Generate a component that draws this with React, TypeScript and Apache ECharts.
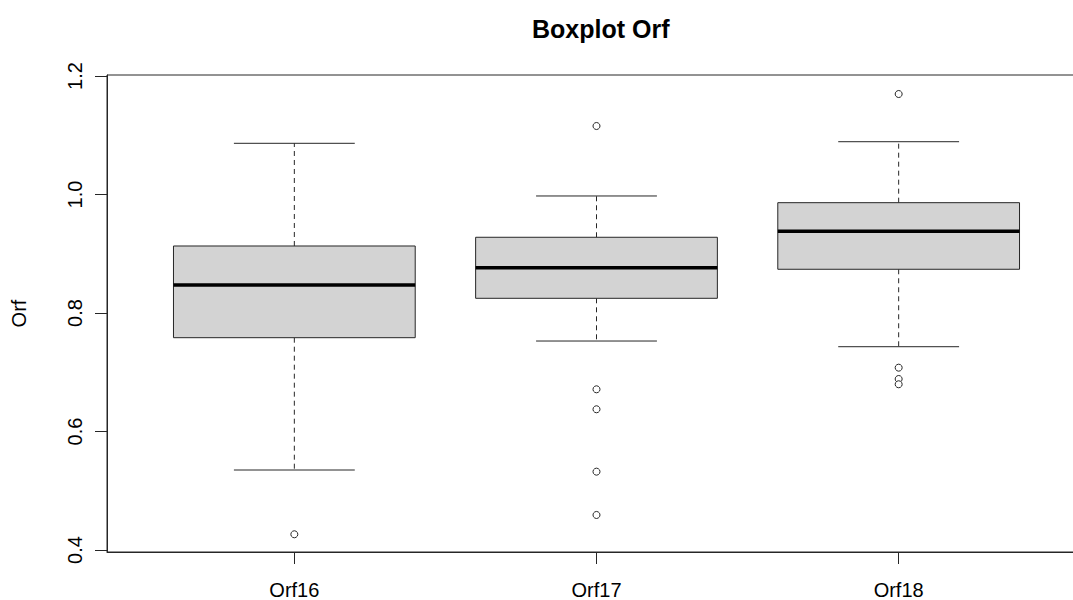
import React, { useEffect, useRef } from "react";
import * as echarts from "echarts";

const categories = ["Orf16", "Orf17", "Orf18"];
const lowerWhisker = [0.535, 0.7527, 0.7431];
const q1 = [0.7583, 0.8248, 0.8738];
const median = [0.8473, 0.8765, 0.9379];
const q3 = [0.9131, 0.9278, 0.9862];
const upperWhisker = [1.0864, 0.9975, 1.0891];
const outliersOrf16 = [0.4265];
const outliersOrf17 = [1.1156, 0.6712, 0.6375, 0.5322, 0.4591];
const outliersOrf18 = [1.1696, 0.7077, 0.6886, 0.6797];
const yTicks = [0.4, 0.6, 0.8, 1.0, 1.2];

const FONT = "'Liberation Sans', Arial, sans-serif";
const LINE = "#262626";

export default function App() {
  const ref = useRef<HTMLDivElement>(null);

  useEffect(() => {
    if (!ref.current) return;
    const chart = echarts.init(ref.current, null, { renderer: "svg" });

    const boxData = categories.map((_, i) => [
      i + 1,
      lowerWhisker[i],
      q1[i],
      median[i],
      q3[i],
      upperWhisker[i],
    ]);
    const allOutliers = [outliersOrf16, outliersOrf17, outliersOrf18];
    const outlierData: number[][] = [];
    allOutliers.forEach((arr, i) => arr.forEach((v) => outlierData.push([i + 1, v])));

    const renderItem = (params: any, api: any) => {
      const x = api.value(0);
      const lo = api.coord([x, api.value(1)]);
      const b1 = api.coord([x, api.value(2)]);
      const md = api.coord([x, api.value(3)]);
      const b3 = api.coord([x, api.value(4)]);
      const hi = api.coord([x, api.value(5)]);
      const boxW = api.size([0.8, 0])[0];
      const capW = api.size([0.4, 0])[0];
      const cx = lo[0];
      return {
        type: "group",
        children: [
          {
            type: "line",
            shape: { x1: cx, y1: b3[1], x2: cx, y2: hi[1] },
            style: { stroke: LINE, lineWidth: 1, lineDash: [5, 4] },
          },
          {
            type: "line",
            shape: { x1: cx, y1: b1[1], x2: cx, y2: lo[1] },
            style: { stroke: LINE, lineWidth: 1, lineDash: [5, 4] },
          },
          {
            type: "line",
            shape: { x1: cx - capW / 2, y1: hi[1], x2: cx + capW / 2, y2: hi[1] },
            style: { stroke: LINE, lineWidth: 1 },
          },
          {
            type: "line",
            shape: { x1: cx - capW / 2, y1: lo[1], x2: cx + capW / 2, y2: lo[1] },
            style: { stroke: LINE, lineWidth: 1 },
          },
          {
            type: "rect",
            shape: { x: cx - boxW / 2, y: b3[1], width: boxW, height: b1[1] - b3[1] },
            style: { fill: "#d3d3d3", stroke: LINE, lineWidth: 1 },
          },
          {
            type: "line",
            shape: { x1: cx - boxW / 2, y1: md[1], x2: cx + boxW / 2, y2: md[1] },
            style: { stroke: "#000", lineWidth: 3.5 },
          },
        ],
      };
    };

    chart.setOption({
      animation: false,
      backgroundColor: "#fff",
      title: {
        text: "Boxplot Orf",
        left: 527,
        top: 11,
        textStyle: { fontFamily: FONT, fontSize: 25, fontWeight: "bold", color: "#000" },
      },
      grid: {
        left: 107,
        right: 1,
        top: 75,
        bottom: 48,
        show: true,
        borderColor: LINE,
        borderWidth: 1,
        backgroundColor: "transparent",
      },
      xAxis: {
        type: "value",
        min: 0.38,
        max: 3.62,
        splitLine: { show: false },
        axisLine: { show: true, lineStyle: { color: LINE } },
        axisTick: {
          show: true,
          length: 12,
          customValues: [1, 2, 3],
          lineStyle: { color: LINE },
        },
        axisLabel: {
          customValues: [1, 2, 3],
          margin: 28,
          fontFamily: FONT,
          fontSize: 20,
          color: "#000",
          formatter: (v: number) => categories[Math.round(v) - 1] ?? "",
        },
      },
      yAxis: {
        type: "value",
        min: 0.3966,
        max: 1.2017,
        name: "Orf",
        nameLocation: "middle",
        nameRotate: 90,
        nameGap: 78,
        nameTextStyle: { fontFamily: FONT, fontSize: 20, color: "#000" },
        splitLine: { show: false },
        axisLine: { show: true, lineStyle: { color: LINE } },
        axisTick: {
          show: true,
          length: 12,
          customValues: yTicks,
          lineStyle: { color: LINE },
        },
        axisLabel: {
          customValues: yTicks,
          rotate: 90,
          margin: 22,
          fontFamily: FONT,
          fontSize: 20,
          color: "#000",
          formatter: (v: number) => v.toFixed(1),
        },
      },
      series: [
        {
          type: "custom",
          renderItem,
          data: boxData,
          encode: { x: 0, y: [1, 2, 3, 4, 5] },
          clip: false,
          z: 2,
        },
        {
          type: "scatter",
          data: outlierData,
          symbol: "circle",
          symbolSize: 7,
          itemStyle: { color: "#fff", borderColor: LINE, borderWidth: 1, opacity: 1 },
          z: 3,
        },
      ],
    });

    return () => chart.dispose();
  }, []);

  return (
    <div
      style={{
        position: "fixed",
        left: 0,
        top: 0,
        width: 1073,
        height: 600,
        overflow: "hidden",
        background: "#fff",
      }}
    >
      <div ref={ref} style={{ width: 1087, height: 600 }} />
    </div>
  );
}
